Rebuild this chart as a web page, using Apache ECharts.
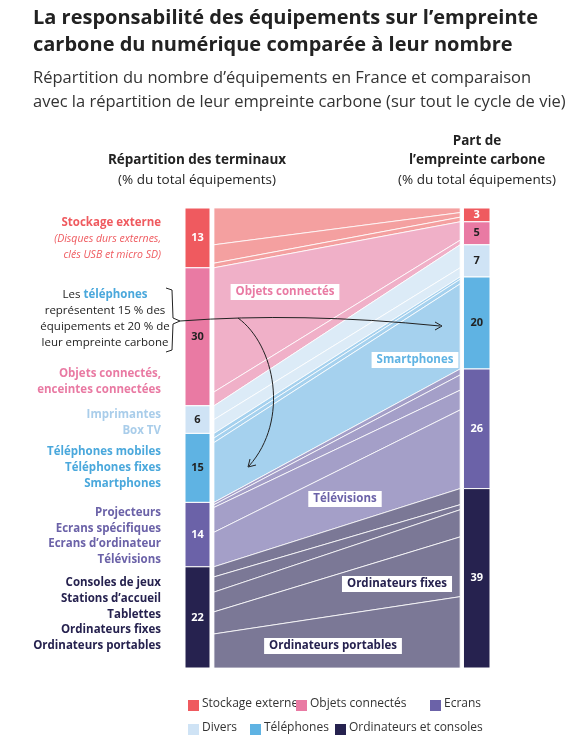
<!DOCTYPE html><html><head><meta charset="utf-8"><script src="https://cdn.jsdelivr.net/npm/echarts@6/dist/echarts.min.js"></script>
<style>html,body{margin:0;background:#fff}#c{width:577px;height:741px}</style></head><body><div id="c"></div><script>
const groups=['Stockage externe','Objets connectés','Divers','Téléphones','Ecrans','Ordinateurs et consoles'];
const leftTotals=[13,30,6,15,14,22];
const rightTotals=[3,5,7,20,26,39];
const leftSubs=[[8,4,1],[27,3],[3,3],[1,1,13],[0.5,0.6,5.4,7.5],[2.2,3.3,4.3,4.8,7.4]];
const rightSubs=[[1,1,1],[4,1],[5,2],[0.5,1,18.5],[1.3,3.3,4.3,17.1],[3.5,1.1,5.9,13,15.5]];
const barColors=['#ef5a5f','#e97aa3','#cfe3f5','#5fb3e3','#6b62a8','#26224f'];
const bandColors=['#f4a0a0','#f0b0c8','#dcebf7','#a5d1ee','#a49fc8','#7b7896'];
const labelColors=['#fff','#222','#222','#222','#fff','#fff'];
const X={lb0:0,lb1:0.082,b0:0.095,b1:0.902,rb0:0.913,rb1:1};
const bands=[],bars=[];
let lc=0,rc=0;
groups.forEach((g,i)=>{
  bars.push([X.lb0,X.lb1,lc,lc+leftTotals[i],i,leftTotals[i]]);
  bars.push([X.rb0,X.rb1,rc,rc+rightTotals[i],i,rightTotals[i]]);
  let a=lc,b=rc;
  leftSubs[i].forEach((v,k)=>{const w=rightSubs[i][k];bands.push([a,a+v,b,b+w,i]);a+=v;b+=w;});
  lc+=leftTotals[i];rc+=rightTotals[i];
});
const ch=echarts.init(document.getElementById('c'));
const F='"Open Sans", sans-serif';
const T=(x,y,t,o)=>({type:'text',x,y,style:Object.assign({text:t,fill:'#222',font:'13px '+F},o||{})});
const g=[
 T(33,8,'La responsabilité des équipements sur l’empreinte',{font:'bold 20px '+F}),
 T(33,35,'carbone du numérique comparée à leur nombre',{font:'bold 20px '+F}),
 T(33,70,'Répartition du nombre d’équipements en France et comparaison',{font:'16.5px '+F,fill:'#333'}),
 T(33,94,'avec la répartition de leur empreinte carbone (sur tout le cycle de vie)',{font:'16.5px '+F,fill:'#333'}),
 T(197,153,'Répartition des terminaux',{font:'bold 13.5px '+F,align:'center'}),
 T(197,173,'(% du total équipements)',{font:'13.5px '+F,align:'center'}),
 T(477,134,'Part de',{font:'bold 13.5px '+F,align:'center'}),
 T(477,153,'l’empreinte carbone',{font:'bold 13.5px '+F,align:'center'}),
 T(477,173,'(% du total équipements)',{font:'13.5px '+F,align:'center'}),
];
const lab=(lines,y0,col,bold,step)=>lines.forEach((l,k)=>g.push(T(161,y0+k*(step||16),l,{font:(bold?'bold ':'')+'11.5px '+F,fill:col,align:'right'})));
lab(['Stockage externe'],217,'#ef5a5f',true);
g.push(T(161,234,'(Disques durs externes,',{font:'italic 10.5px '+F,fill:'#ef5a5f',align:'right'}));
g.push(T(161,250,'clés USB et micro SD)',{font:'italic 10.5px '+F,fill:'#ef5a5f',align:'right'}));
g.push({type:'text',x:105,y:289,style:{rich:{a:{font:'11.5px '+F,fill:'#222'},b:{font:'bold 11.5px '+F,fill:'#4aa8dc'}},text:'{a|Les }{b|téléphones}',align:'center'}});
['représentent 15 % des','équipements et 20 % de','leur empreinte carbone'].forEach((l,k)=>g.push(T(105,305+k*16,l,{font:'11.5px '+F,align:'center'})));
lab(['Objets connectés,','enceintes connectées'],368,'#e97aa3',true);
lab(['Imprimantes','Box TV'],409,'#a9cdea',true);
lab(['Téléphones mobiles','Téléphones fixes','Smartphones'],446,'#4aa8dc',true);
lab(['Projecteurs','Ecrans spécifiques','Ecrans d’ordinateur','Télévisions'],507,'#6b62a8',true,15.5);
lab(['Consoles de jeux','Stations d’accueil','Tablettes','Ordinateurs fixes','Ordinateurs portables'],577,'#26224f',true,15.7);
g.push({type:'polyline',z:60,shape:{points:[[166,288],[172,290],[173,318],[180,321],[173,324],[172,350],[166,352]]},style:{stroke:'#222',fill:null,lineWidth:1}});
g.push({type:'bezierCurve',z:60,shape:{x1:180,y1:321,cpx1:300,cpy1:312,x2:440,y2:326},style:{stroke:'#222',fill:null,lineWidth:1}});
g.push({type:'polyline',z:60,shape:{points:[[435,322],[442,326],[435,330]]},style:{stroke:'#222',fill:null,lineWidth:1}});
g.push({type:'bezierCurve',z:60,shape:{x1:238,y1:318,cpx1:275,cpy1:345,cpx2:290,cpy2:420,x2:249,y2:466},style:{stroke:'#222',fill:null,lineWidth:1}});
g.push({type:'polyline',z:60,shape:{points:[[250,459],[248,467],[256,465]]},style:{stroke:'#222',fill:null,lineWidth:1}});
const box=(cx,cy,t,col)=>g.push({type:'text',x:cx,y:cy,z:50,style:{text:t,font:'bold 11.5px '+F,fill:col,align:'center',verticalAlign:'middle',backgroundColor:'#fff',padding:[2,5]}});
box(285,292,'Objets connectés','#e97aa3');box(415,360,'Smartphones','#5fb3e3');box(345,499,'Télévisions','#6b62a8');
box(397,584,'Ordinateurs fixes','#26224f');box(333,646,'Ordinateurs portables','#26224f');
const leg=[[188,706,0],[296,706,1],[430,706,4],[188,730,2],[250,730,3],[335,730,5]];
leg.forEach(([x,y,i])=>{g.push({type:'rect',shape:{x:x,y:y-6,width:11,height:11},style:{fill:barColors[i]}});g.push(T(x+14,y-8,groups[i],{font:'12px '+F,fill:'#333'}));});
ch.setOption({animation:false,
 grid:{left:185,right:87,top:208,bottom:73},
 xAxis:{type:'value',min:0,max:1,show:false},
 yAxis:{type:'value',min:0,max:100,inverse:true,show:false},
 graphic:g,
 series:[
  {type:'custom',data:bands,renderItem:(p,api)=>{
    const a=api.coord([X.b0,api.value(0)]),b=api.coord([X.b1,api.value(2)]),c=api.coord([X.b1,api.value(3)]),d=api.coord([X.b0,api.value(1)]);
    return {type:'polygon',shape:{points:[a,b,c,d]},style:{fill:bandColors[api.value(4)],stroke:'#fff',lineWidth:0.8}};}},
  {type:'custom',data:bars,renderItem:(p,api)=>{
    const a=api.coord([api.value(0),api.value(2)]),b=api.coord([api.value(1),api.value(3)]);
    const i=api.value(4);
    return {type:'group',children:[
      {type:'rect',shape:{x:a[0],y:a[1],width:b[0]-a[0],height:b[1]-a[1]},style:{fill:barColors[i],stroke:'#fff',lineWidth:1}},
      {type:'text',x:(a[0]+b[0])/2,y:(a[1]+b[1])/2,style:{text:String(api.value(5)),fill:labelColors[i],font:'bold 11px '+F,align:'center',verticalAlign:'middle'}}]};}}
 ]});
</script></body></html>
